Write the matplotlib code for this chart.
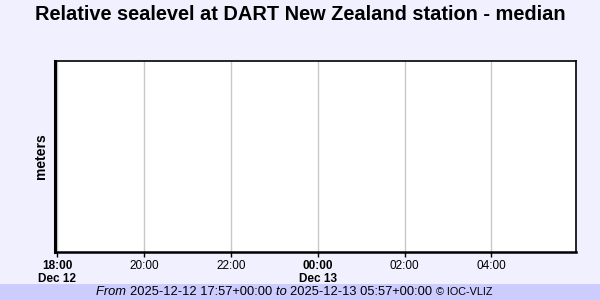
"""Empty DART sealevel panel (no data in window)."""

from datetime import datetime

import matplotlib
import matplotlib.dates as mdates

matplotlib.use("Agg")
import matplotlib.pyplot as plt  # noqa: E402

plt.rcParams["font.family"] = ["Liberation Sans", "DejaVu Sans"]

TITLE = "Relative sealevel at DART New Zealand station - median"
START = datetime(2025, 12, 12, 17, 57)
END = datetime(2025, 12, 13, 5, 57)
TICK_TIMES = [
    datetime(2025, 12, 12, 18, 0),
    datetime(2025, 12, 12, 20, 0),
    datetime(2025, 12, 12, 22, 0),
    datetime(2025, 12, 13, 0, 0),
    datetime(2025, 12, 13, 2, 0),
    datetime(2025, 12, 13, 4, 0),
]
TICK_LABELS = ["18:00\nDec 12", "20:00", "22:00", "00:00\nDec 13", "02:00", "04:00"]
BOLD_TICKS = {0, 3}
# sealevel readings: none in this window
TIMES: list = []
LEVELS: list = []

BG = "#F0F0FF"
FOOTER_BG = "#CCCCFF"

fig = plt.figure(figsize=(6, 3), dpi=100, facecolor=BG)
ax = fig.add_axes([55 / 600, 1 - 252 / 300, 521 / 600, 191 / 300])
ax.set_facecolor("white")
ax.plot(TIMES, LEVELS, color="#0000CC")
ax.set_xlim(START, END)

ax.set_xticks([mdates.date2num(t) for t in TICK_TIMES])
ax.set_xticklabels(TICK_LABELS, fontsize=8.5, linespacing=1.05)
for i, lab in enumerate(ax.get_xticklabels()):
    if i in BOLD_TICKS:
        lab.set_fontweight("bold")
ax.tick_params(axis="x", length=3.5, width=1, pad=2.5, direction="out")
ax.set_yticks([])
ax.xaxis.grid(True, color="#C8C8C8", linewidth=1)
ax.set_axisbelow(True)

ax.spines["left"].set_linewidth(2.2)
ax.spines["bottom"].set_linewidth(1.8)
ax.spines["top"].set_linewidth(1.2)
ax.spines["right"].set_linewidth(1.2)

ax.set_ylabel("meters", fontsize=10, fontweight="bold", labelpad=5)
fig.text(0.5, 1 - 14 / 300, TITLE, ha="center", va="center",
         fontsize=14.4, fontweight="bold")

# footer band with mixed-style text
fig.patches.append(plt.Rectangle((0, 0), 1, 16 / 300, transform=fig.transFigure,
                                 facecolor=FOOTER_BG, edgecolor="none", zorder=0))
pieces = [
    ("From ", "italic", 9.3),
    ("2025-12-12 17:57+00:00 ", "normal", 9.3),
    ("to ", "italic", 9.3),
    ("2025-12-13 05:57+00:00 ", "normal", 9.3),
    ("© IOC-VLIZ", "normal", 7.8),
]
fig.canvas.draw()
renderer = fig.canvas.get_renderer()
y_foot = 1 - 292 / 300
texts = []
x = 0.0
for s, style, size in pieces:
    t = fig.text(x, y_foot, s, ha="left", va="center", fontsize=size, style=style)
    w = t.get_window_extent(renderer).width / fig.bbox.width
    texts.append((t, x))
    x += w
offset = 294.5 / 600 - x / 2
for t, x0 in texts:
    t.set_x(x0 + offset)

fig.savefig("out.png", dpi=100, facecolor=BG)
